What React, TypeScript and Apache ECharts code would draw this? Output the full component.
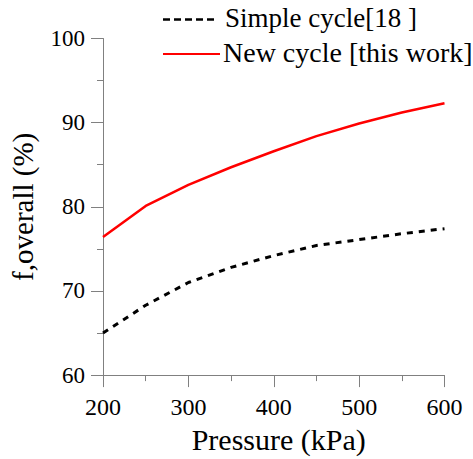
import React, { useEffect, useRef } from "react";
import * as echarts from "echarts";

const pressure = [200, 250, 300, 350, 400, 450, 500, 550, 600];
const simpleCycle = [65.0, 68.3, 71.0, 72.8, 74.2, 75.4, 76.1, 76.8, 77.4];
const newCycle = [76.4, 80.1, 82.6, 84.7, 86.6, 88.4, 89.9, 91.2, 92.3];
const seriesNames = ["Simple cycle[18 ]", "New cycle [this work]"];
const xTitle = "Pressure (kPa)";
const yTitle = "f,overall (%)";

const FONT = "'Liberation Serif', 'Times New Roman', serif";

export default function App() {
  const ref = useRef<HTMLDivElement>(null);
  useEffect(() => {
    if (!ref.current) return;
    const chart = echarts.init(ref.current, undefined, { renderer: "svg" });
    const axisColor = "#808080";
    chart.setOption({
      animation: false,
      backgroundColor: "#ffffff",
      textStyle: { fontFamily: FONT },
      grid: { left: 101.5, right: 28.5, top: 38.5, bottom: 77.5, containLabel: false },
      graphic: [
        {
          type: "line",
          shape: { x1: 163, y1: 19.5, x2: 217, y2: 19.5 },
          style: { stroke: "#000", lineWidth: 2.5, lineDash: [7, 4] },
        },
        {
          type: "text",
          x: 225,
          y: 17.5,
          style: {
            text: seriesNames[0],
            fontFamily: FONT,
            fontSize: 27,
            fill: "#000",
            verticalAlign: "middle",
            align: "left",
          },
        },
        {
          type: "line",
          shape: { x1: 163, y1: 54, x2: 220, y2: 54 },
          style: { stroke: "#ff0000", lineWidth: 2 },
        },
        {
          type: "text",
          x: 223,
          y: 52,
          style: {
            text: seriesNames[1],
            fontFamily: FONT,
            fontSize: 28,
            fill: "#000",
            verticalAlign: "middle",
            align: "left",
          },
        },
      ],
      xAxis: {
        type: "value",
        min: 200,
        max: 600,
        interval: 100,
        name: xTitle,
        nameLocation: "middle",
        nameGap: 46,
        nameTextStyle: { fontFamily: FONT, fontSize: 30, color: "#000", padding: [0, 0, 0, 10] },
        axisLine: { show: true, lineStyle: { color: axisColor, width: 1 } },
        axisTick: { show: true, length: 12, lineStyle: { color: axisColor } },
        minorTick: { show: true, splitNumber: 2, length: 6, lineStyle: { color: axisColor } },
        axisLabel: { fontFamily: FONT, fontSize: 24, color: "#000", margin: 20 },
        splitLine: { show: false },
      },
      yAxis: {
        type: "value",
        min: 60,
        max: 100,
        interval: 10,
        name: yTitle,
        nameLocation: "middle",
        nameGap: 66,
        nameTextStyle: { fontFamily: FONT, fontSize: 29, color: "#000" },
        axisLine: { show: true, lineStyle: { color: axisColor, width: 1 } },
        axisTick: { show: true, length: 12, lineStyle: { color: axisColor } },
        minorTick: { show: true, splitNumber: 2, length: 6, lineStyle: { color: axisColor } },
        axisLabel: { fontFamily: FONT, fontSize: 23, color: "#000", margin: 18 },
        splitLine: { show: false },
      },
      series: [
        {
          name: seriesNames[0],
          type: "line",
          symbol: "none",
          data: pressure.map((p, i) => [p, simpleCycle[i]]),
          lineStyle: { color: "#000", width: 3, type: [6, 6] },
          itemStyle: { color: "#000" },
        },
        {
          name: seriesNames[1],
          type: "line",
          symbol: "none",
          data: pressure.map((p, i) => [p, newCycle[i]]),
          lineStyle: { color: "#ff0000", width: 2.5 },
          itemStyle: { color: "#ff0000" },
        },
      ],
    });
    return () => chart.dispose();
  }, []);
  return <div ref={ref} style={{ width: 473, height: 459, position: "absolute", left: 0, top: 0 }} />;
}
